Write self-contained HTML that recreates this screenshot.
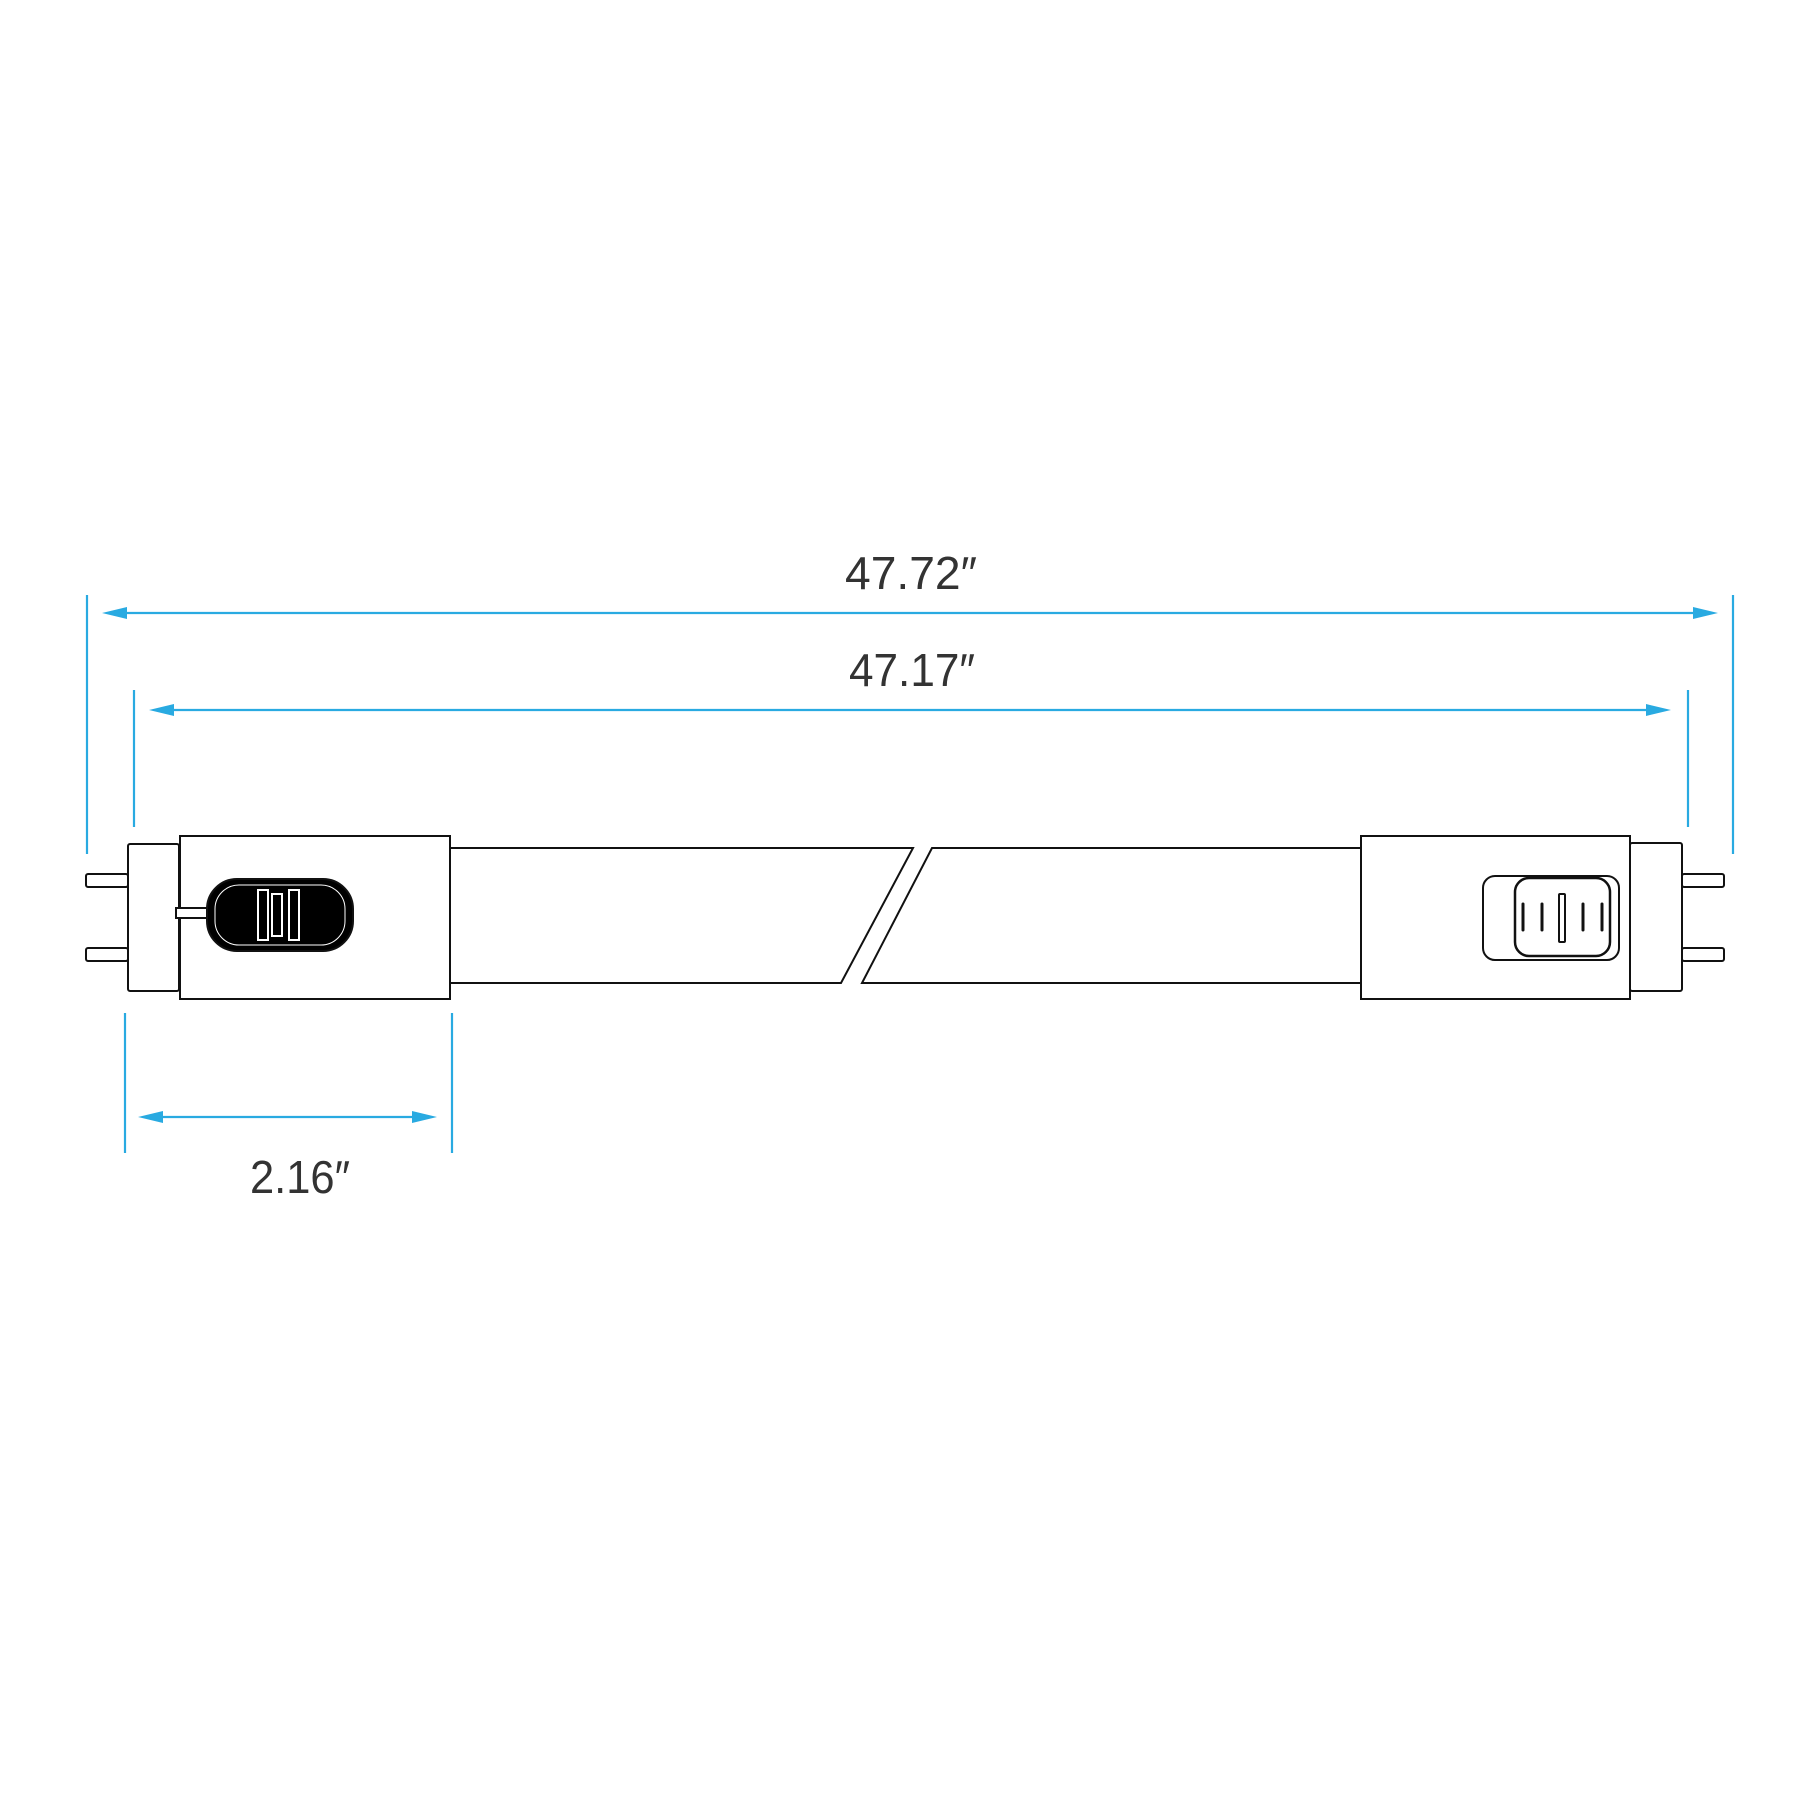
<!DOCTYPE html>
<html><head><meta charset="utf-8"><style>html,body{margin:0;padding:0;background:#fff}svg{display:block}</style></head>
<body>
<svg width="1800" height="1800" viewBox="0 0 1800 1800" xmlns="http://www.w3.org/2000/svg">
<g stroke="#29aae1" stroke-width="2.2" fill="none">
<line x1="87" y1="595" x2="87" y2="854"/>
<line x1="1733" y1="595" x2="1733" y2="854"/>
<line x1="134" y1="690" x2="134" y2="827"/>
<line x1="1688" y1="690" x2="1688" y2="827"/>
<line x1="125" y1="1013" x2="125" y2="1153"/>
<line x1="452" y1="1013" x2="452" y2="1153"/>
<line x1="110" y1="613" x2="1700" y2="613"/>
<line x1="160" y1="710" x2="1660" y2="710"/>
<line x1="150" y1="1117" x2="425" y2="1117"/>
</g>
<g fill="#29aae1">
<polygon points="102,613 127,607 127,619"/>
<polygon points="1718,613 1693,607 1693,619"/>
<polygon points="149,710 174,704 174,716"/>
<polygon points="1671,710 1646,704 1646,716"/>
<polygon points="138,1117 163,1111 163,1123"/>
<polygon points="437,1117 412,1111 412,1123"/>
</g>
<g font-family="'Liberation Sans', sans-serif" font-size="46" fill="#333" text-anchor="middle">
<text x="911" y="589" textLength="132" lengthAdjust="spacingAndGlyphs">47.72″</text>
<text x="912" y="686" textLength="126" lengthAdjust="spacingAndGlyphs">47.17″</text>
<text x="300" y="1193" textLength="100" lengthAdjust="spacingAndGlyphs">2.16″</text>
</g>
<g stroke="#111" stroke-width="2" fill="#fff">
<!-- tube -->
<polyline points="450,848 913,848 841,983 450,983" />
<polyline points="1361,848 932,848 862,983 1361,983" />
<!-- left -->
<rect x="86" y="874" width="42" height="13" rx="2"/>
<rect x="86" y="948" width="42" height="13" rx="2"/>
<rect x="128" y="844" width="51" height="147" rx="2"/>
<rect x="180" y="836" width="270" height="163"/>
<rect x="176" y="908" width="31" height="10" fill="#fff"/>
<rect x="207" y="879" width="146" height="72" rx="30" fill="#000"/>
<rect x="215" y="885" width="130" height="60" rx="24" fill="none" stroke="#fff" stroke-width="1"/>
<rect x="258" y="890" width="10" height="50" stroke="#fff" fill="#000"/>
<rect x="272" y="894" width="10" height="42" stroke="#fff" fill="#000"/>
<rect x="289" y="890" width="10" height="50" stroke="#fff" fill="#000"/>
<!-- right -->
<rect x="1682" y="874" width="42" height="13" rx="2"/>
<rect x="1682" y="948" width="42" height="13" rx="2"/>
<rect x="1630" y="843" width="52" height="148" rx="2"/>
<rect x="1361" y="836" width="269" height="163"/>
<rect x="1483" y="876" width="136" height="84" rx="12"/>
<rect x="1515" y="878" width="95" height="78" rx="14" stroke-width="2.5"/>
<rect x="1559" y="894" width="6" height="48" rx="1"/>
</g>
<g stroke="#111" stroke-width="3" stroke-linecap="round">
<line x1="1523" y1="904" x2="1523" y2="930"/>
<line x1="1542" y1="904" x2="1542" y2="930"/>
<line x1="1583" y1="904" x2="1583" y2="930"/>
<line x1="1602" y1="904" x2="1602" y2="930"/>
</g>
</svg>
</body></html>
